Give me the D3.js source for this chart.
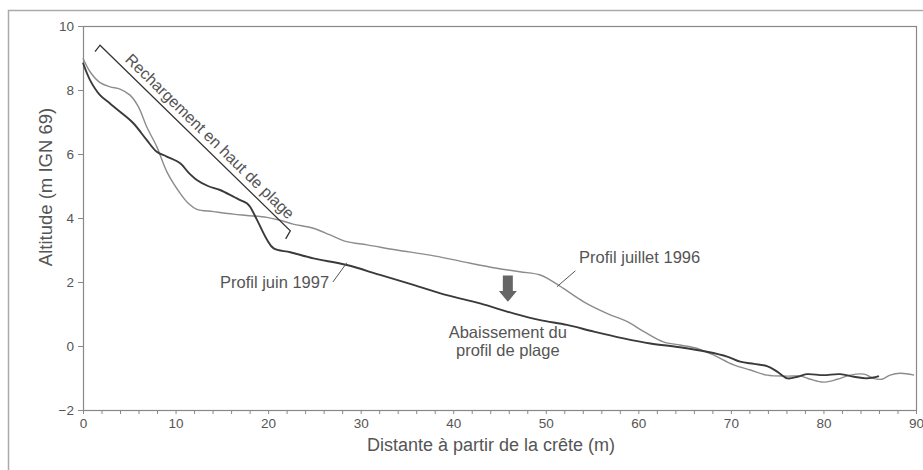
<!DOCTYPE html>
<html>
<head>
<meta charset="utf-8">
<script src="https://cdn.jsdelivr.net/npm/d3@7"></script>
<style>
  body { margin: 0; background: #fff; }
  text { font-family: "Liberation Sans", Arial, sans-serif; fill: #555; }
</style>
</head>
<body>
<script>
// profile juin 1997 (distance m, altitude m)
const juin1997X = [0, 0.76, 1.84, 2.92, 4.0, 5.44, 6.88, 7.97, 9.05, 10.5, 11.4, 12.3, 13.5, 14.8, 16.25, 17.0, 17.7, 18.05, 18.8, 19.9, 20.6, 22.4, 24.9, 28.5, 32.1, 35.7, 39.3, 42.9, 46.5, 49.4, 52.3, 55.2, 58.4, 61.3, 64.5, 67.4, 69.6, 71.0, 72.5, 73.9, 75.0, 76.1, 77.2, 78.2, 80.0, 81.8, 83.3, 84.7, 86.0];
const juin1997Y = [8.85, 8.31, 7.84, 7.58, 7.32, 6.96, 6.44, 6.07, 5.92, 5.71, 5.42, 5.19, 5.0, 4.875, 4.67, 4.56, 4.46, 4.35, 3.94, 3.31, 3.05, 2.93, 2.74, 2.53, 2.22, 1.91, 1.59, 1.33, 1.02, 0.81, 0.66, 0.45, 0.24, 0.08, -0.04, -0.18, -0.33, -0.49, -0.56, -0.63, -0.8, -1.01, -0.96, -0.88, -0.91, -0.88, -0.96, -1.01, -0.94];

// profile juillet 1996
const juillet1996X = [0, 0.76, 1.84, 2.92, 4.0, 5.08, 5.98, 6.88, 7.97, 9.05, 10.5, 11.4, 12.3, 14.1, 16.25, 17.7, 19.86, 21.3, 22.7, 24.9, 26.7, 28.5, 30.7, 33.9, 37.5, 41.1, 44.7, 47.2, 49.4, 50.5, 51.9, 54.1, 56.6, 58.8, 60.6, 62.7, 64.5, 66.3, 68.1, 70.3, 72.1, 73.9, 76.1, 77.5, 78.6, 80.0, 81.5, 82.9, 84.4, 85.4, 86.3, 87.2, 88.3, 89.8];
const juillet1996Y = [8.99, 8.57, 8.23, 8.1, 8.03, 7.84, 7.48, 6.85, 6.23, 5.45, 4.77, 4.45, 4.27, 4.2, 4.12, 4.08, 4.02, 3.93, 3.81, 3.68, 3.47, 3.26, 3.16, 3.0, 2.84, 2.63, 2.43, 2.32, 2.22, 2.06, 1.8, 1.38, 1.02, 0.76, 0.45, 0.13, 0.03, -0.07, -0.28, -0.59, -0.75, -0.91, -0.94, -0.94, -1.04, -1.13, -1.04, -0.91, -0.88, -1.01, -1.04, -0.91, -0.85, -0.91];

const xTicks = [0, 10, 20, 30, 40, 50, 60, 70, 80, 90];
const yTicks = [-2, 0, 2, 4, 6, 8, 10];

const W = 923, H = 470;
const margin = { top: 26, right: 7, bottom: 60, left: 83 };
const width = W - margin.left - margin.right;
const height = H - margin.top - margin.bottom;

const svg = d3.select('body').append('svg')
  .attr('width', W)
  .attr('height', H);

// outer frame of the figure
svg.append('path')
  .attr('d', `M8.5,${H} V10.5 H${W}`)
  .attr('fill', 'none')
  .attr('stroke', '#aaa')
  .attr('stroke-width', 1.5);

const g = svg.append('g')
  .attr('transform', `translate(${margin.left},${margin.top})`);

const x = d3.scaleLinear().domain([0, 90]).range([0, width]);
const y = d3.scaleLinear().domain([-2, 10]).range([height, 0]);

// plot box
g.append('rect')
  .attr('x', 0.5).attr('y', 0.5)
  .attr('width', width).attr('height', height)
  .attr('fill', 'none')
  .attr('stroke', '#888')
  .attr('stroke-width', 1.2);

// x axis with minor ticks every 2 m
const xAxis = g.append('g')
  .attr('transform', `translate(0,${height})`)
  .call(d3.axisBottom(x).tickValues(d3.range(0, 91, 2)).tickSize(4)
    .tickFormat(d => (xTicks.includes(d) ? d : '')));
xAxis.select('.domain').attr('stroke', '#888');
xAxis.selectAll('.tick line').attr('stroke', '#888');
xAxis.selectAll('.tick text').attr('font-size', 13.5).attr('fill', '#555').attr('dy', '0.8em');

const yAxis = g.append('g')
  .call(d3.axisLeft(y).tickValues(yTicks).tickSize(5).tickPadding(4));
yAxis.select('.domain').attr('stroke', '#888');
yAxis.selectAll('.tick line').attr('stroke', '#888');
yAxis.selectAll('.tick text').attr('font-size', 13.5).attr('fill', '#555');

// axis titles
svg.append('text')
  .attr('x', 491).attr('y', 451)
  .attr('text-anchor', 'middle')
  .attr('font-size', 18)
  .text('Distante à partir de la crête (m)');

svg.append('text')
  .attr('transform', 'translate(52,187) rotate(-90)')
  .attr('text-anchor', 'middle')
  .attr('font-size', 18.5)
  .text('Altitude (m IGN 69)');

const line = d3.line()
  .x(d => x(d[0]))
  .y(d => y(d[1]))
  .curve(d3.curveCatmullRom);

g.append('path')
  .datum(d3.zip(juillet1996X, juillet1996Y))
  .attr('d', line)
  .attr('fill', 'none')
  .attr('stroke', '#8c8c8c')
  .attr('stroke-width', 1.4);

g.append('path')
  .datum(d3.zip(juin1997X, juin1997Y))
  .attr('d', line)
  .attr('fill', 'none')
  .attr('stroke', '#3a3a3a')
  .attr('stroke-width', 1.9);

// bracket "Rechargement en haut de plage"
const b0 = [1.84, 9.4], b1 = [22.4, 3.6];
g.append('path')
  .attr('d', `M${x(1.3)},${y(9.2)} L${x(b0[0])},${y(b0[1])} L${x(b1[0])},${y(b1[1])} L${x(21.9)},${y(3.35)}`)
  .attr('fill', 'none')
  .attr('stroke', '#333')
  .attr('stroke-width', 1.3);

const ang = Math.atan2(y(b1[1]) - y(b0[1]), x(b1[0]) - x(b0[0])) * 180 / Math.PI;
g.append('text')
  .attr('transform', `translate(${x(b0[0])},${y(b0[1])}) rotate(${ang})`)
  .attr('x', 28).attr('y', -6)
  .attr('font-size', 16)
  .attr('fill', '#444')
  .text('Rechargement en haut de plage');

// labels with leader lines
g.append('text')
  .attr('x', x(14.8)).attr('y', y(1.8))
  .attr('font-size', 16.5)
  .text('Profil juin 1997');
g.append('line')
  .attr('x1', x(27)).attr('y1', y(2.0))
  .attr('x2', x(28.5)).attr('y2', y(2.6))
  .attr('stroke', '#555');

g.append('text')
  .attr('x', x(53.6)).attr('y', y(2.6))
  .attr('font-size', 16.5)
  .text('Profil juillet 1996');
g.append('line')
  .attr('x1', x(53.2)).attr('y1', y(2.35))
  .attr('x2', x(51.2)).attr('y2', y(1.85))
  .attr('stroke', '#555');

// arrow "Abaissement du profil de plage"
const ax = x(45.9);
const aTop = y(2.2), aHead = y(1.72), aTip = y(1.38);
g.append('path')
  .attr('d', `M${ax - 5},${aTop} H${ax + 5} V${aHead} H${ax + 9} L${ax},${aTip} L${ax - 9},${aHead} H${ax - 5} Z`)
  .attr('fill', '#666');

g.append('text')
  .attr('x', x(45.9)).attr('y', y(0.25))
  .attr('text-anchor', 'middle')
  .attr('font-size', 16.5)
  .selectAll('tspan')
  .data(['Abaissement du', 'profil de plage'])
  .join('tspan')
  .attr('x', x(45.9))
  .attr('dy', (d, i) => (i === 0 ? 0 : '1.1em'))
  .text(d => d);
</script>
</body>
</html>
